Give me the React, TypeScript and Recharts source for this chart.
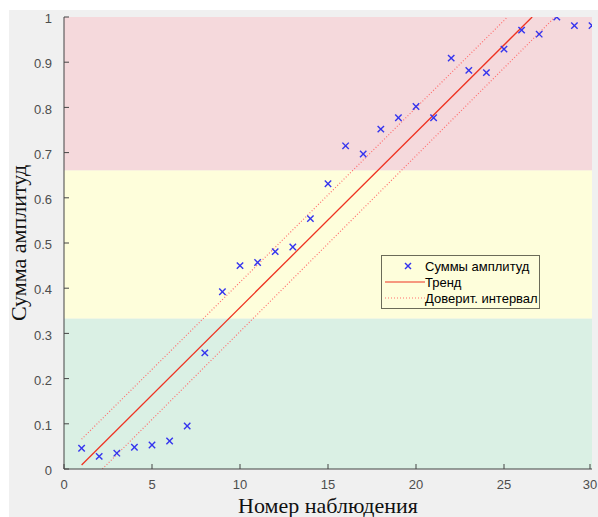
import { ComposedChart, Legend, Line, ReferenceArea, Scatter, XAxis, YAxis } from 'recharts';

// observation numbers and summed amplitudes
const observations = [
  1, 2, 3, 4, 5, 6, 7, 8, 9, 10, 11, 12, 13, 14, 15,
  16, 17, 18, 19, 20, 21, 22, 23, 24, 25, 26, 27, 28, 29, 30,
];
const amplitudeSums = [
  0.046, 0.028, 0.035, 0.048, 0.053, 0.062, 0.095, 0.257, 0.392, 0.45,
  0.457, 0.481, 0.491, 0.554, 0.631, 0.715, 0.697, 0.752, 0.777, 0.802,
  0.777, 0.909, 0.882, 0.877, 0.929, 0.971, 0.962, 1.0, 0.981, 0.981,
];

// trend line and confidence bounds (end points)
const trendX = [1, 26.6];
const trendY = [0.009, 1];
const upperX = [1, 25.2];
const upperY = [0.066, 1];
const lowerX = [2.18, 27.9];
const lowerY = [0, 1];

// coloured zones
const zoneEdges = [0, 0.333, 0.661, 1];
const zoneColors = ['#daf0e4', '#fefedb', '#f5d9dc'];

const xTicks = [0, 5, 10, 15, 20, 25, 30];
const yTicks = [0, 0.1, 0.2, 0.3, 0.4, 0.5, 0.6, 0.7, 0.8, 0.9, 1];

const points = observations.map((x, i) => ({ x, y: amplitudeSums[i] }));
const toLine = (xs: number[], ys: number[]) => xs.map((x, i) => ({ x, y: ys[i] }));

const BLUE = '#3434ee';
const RED = '#ee3322';
const PINK = '#ff6f6f';
const AXIS = '#454545';
const FONT = '"Liberation Sans", Arial, sans-serif';
const TICK_LEN = 5;
const GAP = 11;

// MATLAB-style ticks: short marks pointing into the plot, label outside
const BottomTick = (props: any) => {
  const { x, y, payload } = props;
  const axisY = y - GAP;
  return (
    <g>
      <line x1={x} y1={axisY} x2={x} y2={axisY - TICK_LEN} stroke={AXIS} strokeWidth={1} />
      <text x={x} y={y} dy="0.71em" textAnchor="middle" fontSize={13} fontFamily={FONT} fill="#4d4d4d">
        {payload.value}
      </text>
    </g>
  );
};

const LeftTick = (props: any) => {
  const { x, y, payload } = props;
  const axisX = x + GAP;
  return (
    <g>
      <line x1={axisX} y1={y} x2={axisX + TICK_LEN} y2={y} stroke={AXIS} strokeWidth={1} />
      <text x={x - 1} y={y} dy="0.48em" textAnchor="end" fontSize={13} fontFamily={FONT} fill="#4d4d4d">
        {payload.value}
      </text>
    </g>
  );
};

const TopTick = (props: any) => {
  const { x, y } = props;
  return <line x1={x} y1={y} x2={x} y2={y + TICK_LEN} stroke={AXIS} strokeWidth={1} />;
};

const RightTick = (props: any) => {
  const { x, y } = props;
  return <line x1={x} y1={y} x2={x - TICK_LEN} y2={y} stroke={AXIS} strokeWidth={1} />;
};

const Cross = (props: any) => {
  const { cx, cy } = props;
  if (cx == null || cy == null) return null;
  const s = 3.2;
  return (
    <g stroke={BLUE} strokeWidth={1.4}>
      <line x1={cx - s} y1={cy - s} x2={cx + s} y2={cy + s} />
      <line x1={cx - s} y1={cy + s} x2={cx + s} y2={cy - s} />
    </g>
  );
};

const LegendBox = () => (
  <svg width={160} height={55} style={{ display: 'block' }}>
    <rect x={0.5} y={0.5} width={158} height={53} fill="#fefedb" stroke="#6b6b58" strokeWidth={1} />
    <g stroke={BLUE} strokeWidth={1.4}>
      <line x1={24} y1={8} x2={30} y2={14} />
      <line x1={24} y1={14} x2={30} y2={8} />
    </g>
    <line x1={4} y1={27} x2={44} y2={27} stroke={RED} strokeWidth={1.2} />
    <line x1={4} y1={43} x2={44} y2={43} stroke={PINK} strokeWidth={1.2} strokeDasharray="1 2" />
    <g fontSize={13} fontFamily={FONT} fill="#000">
      <text x={44} y={16}>Суммы амплитуд</text>
      <text x={44} y={32}>Тренд</text>
      <text x={44} y={48}>Доверит. интервал</text>
    </g>
  </svg>
);

export default function App() {
  return (
    <div style={{ position: 'absolute', left: 0, top: 0, width: 598, height: 517, background: '#fff' }}>
      <div style={{ position: 'absolute', left: 9, top: 10, width: 589, height: 507, background: '#f0f0f0' }} />
      <div style={{ position: 'absolute', left: 0, top: 0 }}>
        <ComposedChart width={598} height={517} margin={{ top: 17, right: 6, bottom: 0, left: 0 }}>
          {zoneColors.map((c, i) => (
            <ReferenceArea
              key={c}
              x1={0}
              x2={30}
              y1={zoneEdges[i]}
              y2={zoneEdges[i + 1]}
              fill={c}
              fillOpacity={1}
              stroke="none"
              ifOverflow="hidden"
            />
          ))}
          <XAxis
            dataKey="x"
            type="number"
            domain={[0, 30]}
            ticks={xTicks}
            height={48}
            stroke={AXIS}
            tickLine={false}
            tickSize={0}
            tickMargin={GAP}
            tick={<BottomTick />}
            allowDataOverflow
            label={{
              value: 'Номер наблюдения',
              position: 'insideBottom',
              offset: 4,
              style: { fontSize: 22, fontFamily: '"Liberation Serif", "Times New Roman", serif', fill: '#111' },
            }}
          />
          <XAxis
            xAxisId="top"
            orientation="top"
            dataKey="x"
            type="number"
            domain={[0, 30]}
            ticks={xTicks}
            height={0}
            stroke={AXIS}
            tickLine={false}
            tickSize={0}
            tickMargin={0}
            tick={<TopTick />}
          />
          <YAxis
            type="number"
            domain={[0, 1]}
            ticks={yTicks}
            width={64}
            stroke={AXIS}
            tickLine={false}
            tickSize={0}
            tickMargin={GAP}
            tick={<LeftTick />}
            allowDataOverflow
            label={{
              value: 'Сумма амплитуд',
              angle: -90,
              position: 'insideLeft',
              offset: 18,
              style: {
                textAnchor: 'middle',
                fontSize: 22,
                fontFamily: '"Liberation Serif", "Times New Roman", serif',
                fill: '#111',
              },
            }}
          />
          <YAxis
            yAxisId="right"
            orientation="right"
            type="number"
            domain={[0, 1]}
            ticks={yTicks}
            width={0}
            stroke={AXIS}
            tickLine={false}
            tickSize={0}
            tickMargin={0}
            tick={<RightTick />}
          />
          <Line
            data={toLine(upperX, upperY)}
            dataKey="y"
            stroke={PINK}
            strokeWidth={1.2}
            strokeDasharray="1 2"
            dot={false}
            activeDot={false}
            isAnimationActive={false}
            legendType="none"
          />
          <Line
            data={toLine(lowerX, lowerY)}
            dataKey="y"
            stroke={PINK}
            strokeWidth={1.2}
            strokeDasharray="1 2"
            dot={false}
            activeDot={false}
            isAnimationActive={false}
            legendType="none"
          />
          <Line
            data={toLine(trendX, trendY)}
            dataKey="y"
            stroke={RED}
            strokeWidth={1.3}
            dot={false}
            activeDot={false}
            isAnimationActive={false}
            legendType="none"
          />
          <Scatter data={points} dataKey="y" shape={<Cross />} isAnimationActive={false} legendType="none" />
          <Legend
            layout="vertical"
            align="center"
            verticalAlign="middle"
            content={() => <LegendBox />}
            wrapperStyle={{ left: 381, top: 255, width: 160, height: 55 }}
          />
        </ComposedChart>
      </div>
    </div>
  );
}
